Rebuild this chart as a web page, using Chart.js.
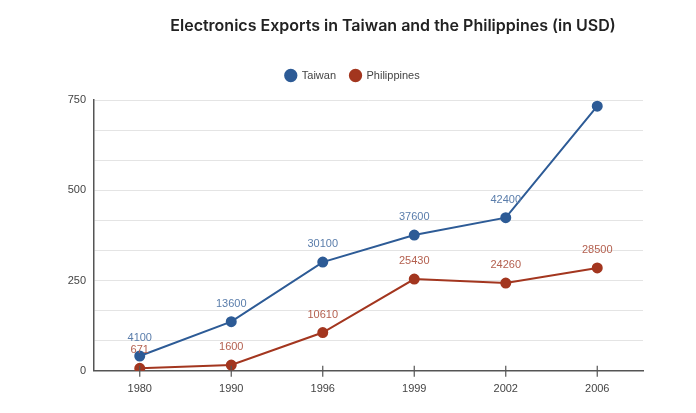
<!DOCTYPE html>
<html>
<head>
<meta charset="utf-8">
<script src="https://cdn.jsdelivr.net/npm/chart.js@4"></script>
<style>
  html, body { margin: 0; padding: 0; background: #fff; }
  #wrap { width: 696px; height: 413px; position: relative; }
</style>
</head>
<body>
<div id="wrap"><canvas id="myChart"></canvas></div>
<script>
const titleText = "Electronics Exports in Taiwan and the Philippines (in USD)";
const years = ["1980", "1990", "1996", "1999", "2002", "2006"];
const taiwan = [41, 136, 301, 376, 424, 733];
const philippines = [7, 16, 106, 254, 243, 285];
const taiwanLabels = ["4100", "13600", "30100", "37600", "42400", ""];
const philippinesLabels = ["671", "1600", "10610", "25430", "24260", "28500"];
const yMax = 750;
const yLabelEvery = 250;

const blue = "#2d5b96";
const red = "#a3361f";

// title is offset right of the plot centre in the original, so draw it by hand
const titlePlugin = {
  id: "titleText",
  afterDraw(chart) {
    const ctx = chart.ctx;
    ctx.save();
    ctx.font = "600 16px Inter";
    ctx.fillStyle = "#222";
    ctx.textAlign = "center";
    ctx.textBaseline = "middle";
    ctx.fillText(titleText, 393, 26);
    ctx.restore();
  }
};

// extra gap under the legend, and nudge it right like the original
const legendTweak = {
  id: "legendTweak",
  beforeInit(chart) {
    const fit = chart.legend.fit;
    chart.legend.fit = function () {
      fit.bind(chart.legend)();
      this.height += 9;
    };
  },
  afterLayout(chart) {
    chart.legend.left += 6;
    chart.legend.right += 6;
  }
};

// value labels above each point
const valueLabels = {
  id: "valueLabels",
  afterDatasetsDraw(chart) {
    const ctx = chart.ctx;
    ctx.save();
    ctx.font = "11px 'Liberation Sans'";
    ctx.textAlign = "center";
    ctx.textBaseline = "middle";
    chart.data.datasets.forEach((ds, i) => {
      const meta = chart.getDatasetMeta(i);
      ctx.fillStyle = ds.labelColor;
      meta.data.forEach((pt, j) => {
        const txt = ds.pointLabels[j];
        if (txt) ctx.fillText(txt, pt.x, pt.y - 18);
      });
    });
    ctx.restore();
  }
};

// small tick marks crossing the x axis
const xTicks = {
  id: "xTicks",
  afterDraw(chart) {
    const ctx = chart.ctx;
    const x = chart.scales.x;
    const bottom = chart.chartArea.bottom;
    ctx.save();
    ctx.strokeStyle = "#555";
    ctx.lineWidth = 1.2;
    x.ticks.forEach((t, i) => {
      const px = x.getPixelForTick(i);
      ctx.beginPath();
      ctx.moveTo(px, bottom - 5);
      ctx.lineTo(px, bottom + 6);
      ctx.stroke();
    });
    ctx.restore();
  }
};

const ctx = document.getElementById("myChart").getContext("2d");

const data = {
  labels: years,
  datasets: [
    {
      label: "Taiwan",
      data: taiwan,
      pointLabels: taiwanLabels,
      labelColor: "#5a7dab",
      borderColor: blue,
      backgroundColor: blue,
      pointBackgroundColor: blue,
      borderWidth: 2,
      pointRadius: 4.5,
      tension: 0,
    },
    {
      label: "Philippines",
      data: philippines,
      pointLabels: philippinesLabels,
      labelColor: "#b4604f",
      borderColor: red,
      backgroundColor: red,
      pointBackgroundColor: red,
      borderWidth: 2,
      pointRadius: 4.5,
      tension: 0,
    },
  ],
};

const config = {
  type: "line",
  data: data,
  options: {
    responsive: true,
    maintainAspectRatio: false,
    animation: false,
    layout: { padding: { top: 56, left: 50, right: 53, bottom: 13 } },
    plugins: {
      title: { display: false },
      tooltip: { enabled: false },
      legend: {
        position: "top",
        labels: {
          usePointStyle: true,
          pointStyle: "circle",
          boxWidth: 11,
          boxHeight: 8,
          padding: 14,
          color: "#444",
          font: { family: "'Liberation Sans'", size: 11 },
        },
      },
    },
    scales: {
      x: {
        offset: true,
        grid: { display: false },
        border: { display: true, color: "#555", width: 1.5 },
        ticks: {
          color: "#444",
          padding: 4,
          font: { family: "'Liberation Sans'", size: 11 },
        },
      },
      y: {
        min: 0,
        max: yMax,
        afterFit(scale) { scale.width = 44; },
        grid: { color: "#e4e4e4", drawTicks: false },
        border: { display: true, color: "#555", width: 1.5 },
        ticks: {
          stepSize: yLabelEvery / 3,
          padding: 8,
          color: "#444",
          font: { family: "'Liberation Sans'", size: 11 },
          callback: (v) => {
            const r = v / yLabelEvery;
            return Math.abs(r - Math.round(r)) < 1e-6 ? Math.round(v) : "";
          },
        },
      },
    },
  },
  plugins: [titlePlugin, legendTweak, valueLabels, xTicks],
};

const myLineChart = new Chart(ctx, config);
</script>
</body>
</html>
